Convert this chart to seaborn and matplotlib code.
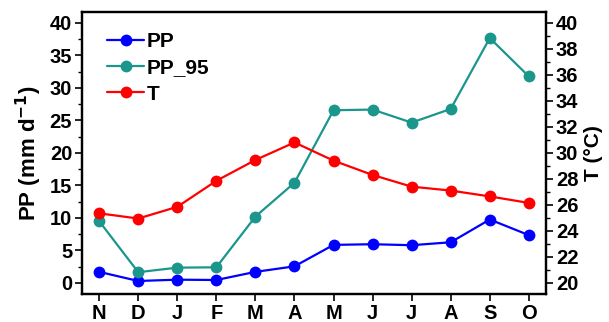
import numpy as np
import pandas as pd
import matplotlib
matplotlib.use("Agg")
import matplotlib.pyplot as plt
from matplotlib.ticker import MultipleLocator
import seaborn as sns

months = ["N", "D", "J", "F", "M", "A", "M", "J", "J", "A", "S", "O"]
pp = [1.7, 0.3, 0.5, 0.45, 1.7, 2.55, 5.85, 5.95, 5.8, 6.25, 9.75, 7.35]
pp95 = [9.5, 1.65, 2.35, 2.4, 10.2, 15.4, 26.55, 26.65, 24.65, 26.75, 37.65, 31.75]
temp = [25.35, 24.95, 25.85, 27.85, 29.45, 30.8, 29.4, 28.3, 27.4, 27.1, 26.65, 26.15]

sns.set_style("ticks")
plt.rcParams["font.family"] = ["Liberation Sans", "DejaVu Sans"]
plt.rcParams["font.weight"] = "bold"
plt.rcParams["mathtext.default"] = "bf"
plt.rcParams["text.color"] = "black"
plt.rcParams["axes.labelcolor"] = "black"
plt.rcParams["xtick.color"] = "black"
plt.rcParams["ytick.color"] = "black"

idx = np.arange(len(months))
df = pd.DataFrame({"idx": idx, "PP": pp, "PP_95": pp95, "T": temp})

fig = plt.figure(figsize=(6.09, 3.22), dpi=100)
ax = fig.add_axes([0.1346, 0.087, 0.762, 0.8767])
ax2 = ax.twinx()

c_pp, c_95, c_t = "#0000ff", "#1a968c", "#ff0000"
kw = dict(marker="o", markersize=8.5, linewidth=1.6, markeredgewidth=0)
sns.lineplot(data=df, x="idx", y="PP", ax=ax, color=c_pp, label="PP", **kw)
sns.lineplot(data=df, x="idx", y="PP_95", ax=ax, color=c_95, label="PP_95", **kw)
sns.lineplot(data=df, x="idx", y="T", ax=ax2, color=c_t, label="T", **kw)

ax.set_xlim(-0.44, 11.44)
ax.set_ylim(-1.7, 41.7)
ax2.set_ylim(19.15, 40.85)

ax.set_xticks(idx)
ax.set_xticklabels(months)
ax.yaxis.set_major_locator(MultipleLocator(5))
ax.yaxis.set_minor_locator(MultipleLocator(2.5))
ax2.yaxis.set_major_locator(MultipleLocator(2))
ax2.yaxis.set_minor_locator(MultipleLocator(1))

fs = 14.5
for a in (ax, ax2):
    a.tick_params(axis="both", which="major", labelsize=fs, length=5, width=1.2,
                  direction="out", pad=2, colors="black")
    a.tick_params(axis="both", which="minor", length=3, width=1.0, direction="out")
    for lab in a.get_xticklabels() + a.get_yticklabels():
        lab.set_fontweight("bold")
    for s in a.spines.values():
        s.set_linewidth(1.6)
        s.set_color("black")

ax.set_xlabel("")
ax.set_ylabel("PP (mm d$^{-1}$)", fontsize=16, fontweight="bold", labelpad=4)
ax2.set_ylabel("T (°C)", fontsize=15, fontweight="bold", labelpad=4)

h1, l1 = ax.get_legend_handles_labels()
h2, l2 = ax2.get_legend_handles_labels()
if ax2.get_legend() is not None:
    ax2.get_legend().remove()
ax.legend(h1 + h2, l1 + l2, loc="upper left", frameon=False,
          prop={"weight": "bold", "size": 15}, handlelength=1.8, handletextpad=0.1,
          labelspacing=0.35, borderaxespad=0.3, bbox_to_anchor=(0.022, 0.98))

fig.savefig("out.png", dpi=100)
